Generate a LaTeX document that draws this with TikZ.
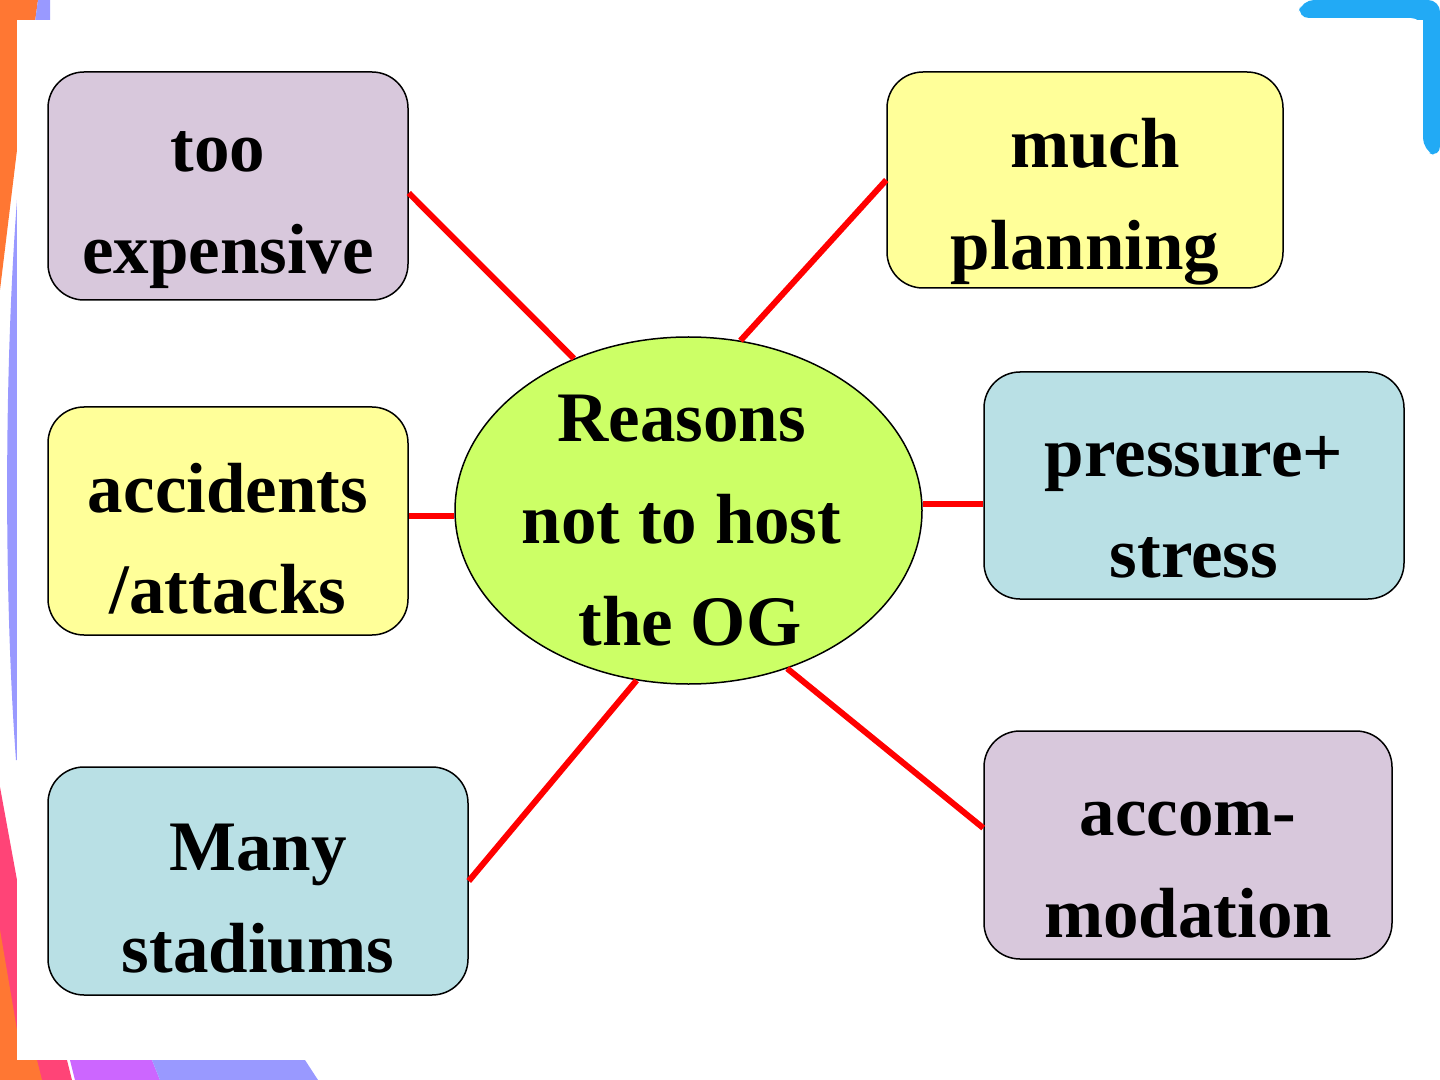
\documentclass[tikz,border=0pt]{standalone}
\usepackage{fontspec}
\setmainfont{Liberation Serif}
\usetikzlibrary{shapes.geometric,calc}
\definecolor{boxlav}{HTML}{D8C8DC}
\definecolor{boxyel}{HTML}{FFFF99}
\definecolor{boxblu}{HTML}{B9E0E5}
\definecolor{ovalgrn}{HTML}{CCFF66}
\definecolor{decoor}{HTML}{FF7733}
\definecolor{decopk}{HTML}{FF4477}
\definecolor{decomg}{HTML}{CC66FF}
\definecolor{decolv}{HTML}{9999FF}
\definecolor{decobl}{HTML}{22AAF5}
\newcommand{\twolines}[3]{\raisebox{#1}[0pt][0pt]{\begin{tabular}[t]{@{}c@{}}#2\\#3\end{tabular}}}
\newcommand{\threelines}[4]{\raisebox{#1}[0pt][0pt]{\begin{tabular}[t]{@{}c@{}}#2\\#3\\#4\end{tabular}}}
\tikzset{
  rbox/.style={draw=black, line width=0.75pt, rounded corners=18pt, inner sep=0pt,
    font=\fontsize{35.5}{51}\selectfont\bfseries},
  oval/.style={draw=black, line width=0.75pt, ellipse, inner sep=0pt, fill=ovalgrn,
    minimum width=233.5pt, minimum height=173.5pt,
    font=\fontsize{35.5}{51}\selectfont\bfseries},
  link/.style={draw=red, line width=3pt}
}
\begin{document}
\begin{tikzpicture}[x=0.5pt,y=-0.5pt]
\useasboundingbox (0,0) rectangle (1440,1080);
\fill[white] (0,0) rectangle (1440,1080);
% decorations
\fill[decoor] (0,0) -- (38,0) -- (35,22) -- (17,22) -- (17,150) -- (0,290) -- cycle;
\fill[decolv] (38,0) -- (50,0) -- (50,22) -- (35,22) -- cycle;
\fill[decolv] (17,200) .. controls (4,370) and (4,600) .. (16,760) -- (17,760) -- cycle;
\fill[decopk] (0,787) -- (17,880) -- (67,1060) -- (72,1080) -- (0,1080) -- cycle;
\fill[decoor] (0,930) -- (17,1030) -- (37,1060) -- (42,1080) -- (0,1080) -- cycle;
\fill[decomg] (70,1060) -- (152,1060) -- (160,1080) -- (75,1080) -- cycle;
\fill[decolv] (152,1060) -- (305,1060) -- (318,1080) -- (160,1080) -- cycle;
\fill[decobl, rounded corners=6pt] (1297,18) -- (1302,0) -- (1440,0) -- (1440,158) -- (1423,150) -- (1423,18) -- cycle;
\fill[white] (17,20) rectangle (1423,1060);
% nodes
\node[oval] (el) at (688.5,510.5) {\hspace{-7pt}\threelines{34.5pt}{Reasons}{not to host}{\hspace{8.5pt}the OG}};
\node[rbox, fill=boxlav, minimum width=180pt, minimum height=114pt] (te) at (228,186) {\twolines{7pt}{too\rule{10pt}{0pt}}{expensive}};
\node[rbox, fill=boxyel, minimum width=198pt, minimum height=108pt] (mp) at (1085,180) {\twolines{6pt}{\hspace{10pt}much}{planning}};
\node[rbox, fill=boxyel, minimum width=180pt, minimum height=114pt] (ac) at (228,521) {\twolines{4.5pt}{accidents}{/attacks}};
\node[rbox, fill=boxblu, minimum width=210pt, minimum height=113.5pt] (ps) at (1194,485.5) {\twolines{4.75pt}{pressure+}{stress}};
\node[rbox, fill=boxblu, minimum width=210pt, minimum height=114pt] (ms) at (258,881) {\twolines{5.5pt}{Many}{stadiums}};
\node[rbox, fill=boxlav, minimum width=204pt, minimum height=114pt] (am) at (1188,845) {\twolines{5pt}{accom-}{modation}};
% connectors
\draw[link] ([yshift=-3.5pt]te.east) -- (el.127);
\draw[link] (mp.west) -- (el.73);
\draw[link] ([yshift=2.5pt]ac.east) -- ([yshift=2.5pt]ac.east -| el.west);
\draw[link] ([yshift=3.5pt]el.east) -- ([yshift=3.5pt]el.east -| ps.west);
\draw[link] (el.253) -- (ms.east);
\draw[link] (el.302) -- ([yshift=8.5pt]am.west);
\end{tikzpicture}
\end{document}
